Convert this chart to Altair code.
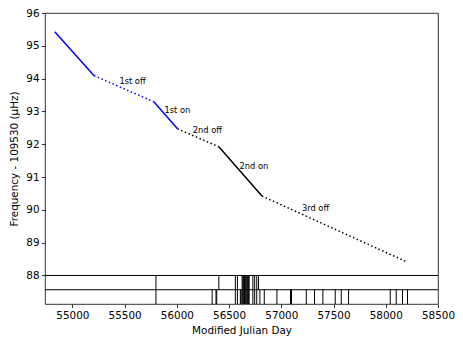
import altair as alt
import pandas as pd

# Segment break points (MJD, frequency offset)
seg_x = [54831, 55208, 55782, 56006, 56402, 56815, 58197]
seg_y = [95.43, 94.09, 93.29, 92.47, 91.92, 90.42, 88.42]
seg_style = ["on", "off", "on", "off", "on", "off"]
seg_color = ["blue", "blue", "blue", "black", "black", "black"]

# Labels
lab_text = ["1st off", "1st on", "2nd off", "2nd on", "3rd off"]
lab_x = [55450, 55881, 56153, 56600, 57197]
lab_y = [93.91, 93.01, 92.41, 91.31, 90.02]

# Observation epochs (upper and lower bands)
upper_mjd = [55800, 56402, 56560, 56580, 56625, 56632, 56640, 56648, 56655,
             56662, 56670, 56678, 56685, 56692, 56728, 56745, 56765, 56782]
lower_mjd = [55800, 56338, 56375, 56382, 56560, 56580, 56608, 56616, 56625,
             56632, 56640, 56648, 56655, 56662, 56670, 56678, 56685, 56692,
             56728, 56745, 56765, 56795, 56837, 56958, 57088, 57098, 57239,
             57318, 57398, 57516, 57574, 57644, 58043, 58100, 58160, 58208]

band_levels = [88.0, 87.565, 87.13]
x_ticks = list(range(55000, 58501, 500))
y_ticks = list(range(88, 97))

XMIN, XMAX = 54738, 58500
YMIN, YMAX = 87.13, 96.0

segs = pd.DataFrame({
    "x": seg_x[:-1], "y": seg_y[:-1], "x2": seg_x[1:], "y2": seg_y[1:],
    "style": seg_style, "color": seg_color,
})

xs = alt.Scale(domain=[XMIN, XMAX], nice=False, zero=False)
ys = alt.Scale(domain=[YMIN, YMAX], nice=False, zero=False)

xax = alt.Axis(values=x_ticks, format="d", title="Modified Julian Day")
yax = alt.Axis(values=y_ticks, format="d", title="Frequency - 109530 (μHz)")


def X(f="x:Q"):
    return alt.X(f, scale=xs, axis=xax)


def Y(f="y:Q"):
    return alt.Y(f, scale=ys, axis=yax)


base = alt.Chart(segs)

solid = base.transform_filter(alt.datum.style == "on").mark_rule(strokeWidth=1.5).encode(
    x=X(), y=Y(), x2="x2:Q", y2="y2:Q",
    color=alt.Color("color:N", scale=None),
)
dotted = base.transform_filter(alt.datum.style == "off").mark_rule(
    strokeWidth=1.5, strokeDash=[1.5, 2.5]).encode(
    x=X(), y=Y(), x2="x2:Q", y2="y2:Q",
    color=alt.Color("color:N", scale=None),
)

labels = alt.Chart(pd.DataFrame({"t": lab_text, "x": lab_x, "y": lab_y})).mark_text(
    align="left", baseline="middle", fontSize=8.3, font="DejaVu Sans", color="black"
).encode(x=X(), y=Y(), text="t:N")

hlines = alt.Chart(pd.DataFrame({"y": band_levels[:2]})).mark_rule(
    color="black", strokeWidth=1).encode(y=Y())

up = pd.DataFrame({"x": upper_mjd, "y": band_levels[1], "y2": band_levels[0]})
lo = pd.DataFrame({"x": lower_mjd, "y": band_levels[2], "y2": band_levels[1]})
ticks = alt.Chart(pd.concat([up, lo])).mark_rule(color="black", strokeWidth=1).encode(
    x=X(), y=Y(), y2="y2:Q")

chart = alt.layer(hlines, ticks, dotted, solid, labels).properties(
    width=393, height=291,
    autosize=alt.AutoSizeParams(type="none"),
    padding={"left": 37, "top": 5, "right": 17, "bottom": 34},
).configure_view(stroke="black", strokeWidth=0.8).configure_axis(
    grid=False, domain=False, tickColor="black", tickSize=3.5, tickWidth=0.8,
    labelColor="black", labelFont="DejaVu Sans", labelFontSize=10.4,
    labelOverlap=False, labelFlush=False, labelBound=False,
    labelPadding=2.5, titleFont="DejaVu Sans", titleFontSize=10.4,
    titleFontWeight="normal", titleColor="black",
).configure_axisX(titlePadding=5).configure_axisY(titlePadding=6)

chart.save("out.html", embed_options={"renderer": "svg", "actions": False})
